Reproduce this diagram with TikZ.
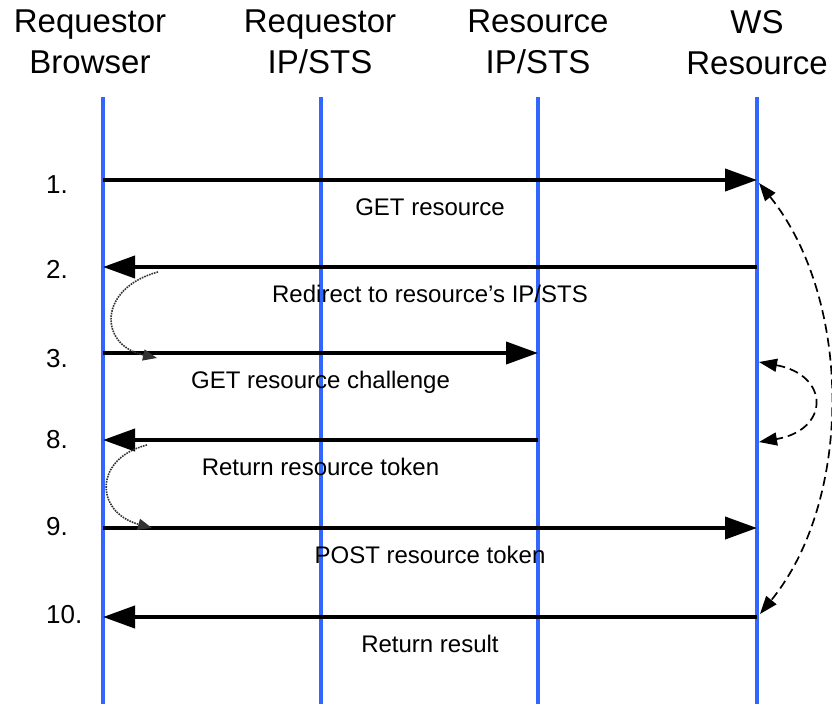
\documentclass[tikz,border=0pt]{standalone}
\usepackage{fontspec}
\setmainfont{Liberation Sans}
\usetikzlibrary{arrows.meta}
\definecolor{lifeblue}{RGB}{51,102,255}

\begin{document}
\begin{tikzpicture}[x=1pt, y=-1pt,
    head/.style={anchor=north, inner sep=0pt, align=center, font=\fontsize{33}{41}\selectfont},
    life/.style={lifeblue, line width=4pt},
    msg/.style={line width=4pt, -{Triangle[length=32pt, width=22pt]}},
    lbl/.style={anchor=base, inner sep=0pt, yshift=-35pt, font=\fontsize{24}{28}\selectfont},
    num/.style={anchor=base west, inner sep=0pt, font=\fontsize{26}{30}\selectfont},
    hop/.style={densely dotted, line width=1.6pt, black!80, -{Triangle[length=14pt, width=11pt]}},
    waitarc/.style={dash pattern=on 9pt off 5pt, line width=1.7pt,
        {Triangle[length=18pt, width=13pt]}-{Triangle[length=18pt, width=13pt]}}]
        \useasboundingbox (0,0) rectangle (832,704);

        % Parties
        \node[head] (browser) at (90,10) {Requestor\\Browser};
        \node[head] (reqsts) at (320,10) {Requestor\\IP/STS};
        \node[head] (ressts) at (538,10) {Resource\\IP/STS};
        \node[head] (wsres) at (757,10) {WS\\Resource};

        % Lifelines
        \foreach \p/\x in {browser/103, reqsts/321, ressts/538, wsres/757} {
            \coordinate (\p top) at (\x,97);
            \coordinate (\p bot) at (\x,704);
            \draw[life] (\p top) -- (\p bot);
        }

        % Steps
        \foreach \n/\y/\b in {1/180/193, 2/267/278, 3/353/367, 8/440/448, 9/528/535, 10/617/623} {
            \coordinate (br\n) at (103,\y);
            \coordinate (rs\n) at (538,\y);
            \coordinate (ws\n) at (757,\y);
            \node[num] (n\n) at (46,\b) {\n.};
        }

        % Messages
        \draw[msg] (br1) -- (ws1) node[midway, lbl] {GET resource};
        \draw[msg] (ws2) -- (br2) node[midway, lbl] {Redirect to resource's IP/STS};
        \draw[msg] (br3) -- (rs3) node[midway, lbl] {GET resource challenge};
        \draw[msg] (rs8) -- (br8) node[midway, lbl] {Return resource token};
        \draw[msg] (br9) -- (ws9) node[midway, lbl] {POST resource token};
        \draw[msg] (ws10) -- (br10) node[midway, lbl] {Return result};

        % Redirect hops
        \coordinate (hopA) at (158,272);
        \coordinate (hopB) at (157,358);
        \coordinate (hopC) at (147,445);
        \coordinate (hopD) at (152,528);
        \draw[hop] (hopA) .. controls (98,288) and (98,345) .. (hopB);
        \draw[hop] (hopC) .. controls (94,458) and (94,512) .. (hopD);

        % Waiting arcs
        \coordinate (arcA) at (759,183);
        \coordinate (arcB) at (760,614);
        \coordinate (arcC) at (759,362);
        \coordinate (arcD) at (759,442);
        \draw[waitarc] (arcA) .. controls (853,300) and (853,500) .. (arcB);
        \draw[waitarc] (arcC) .. controls (830,375) and (830,430) .. (arcD);
    \end{tikzpicture}
\end{document}
